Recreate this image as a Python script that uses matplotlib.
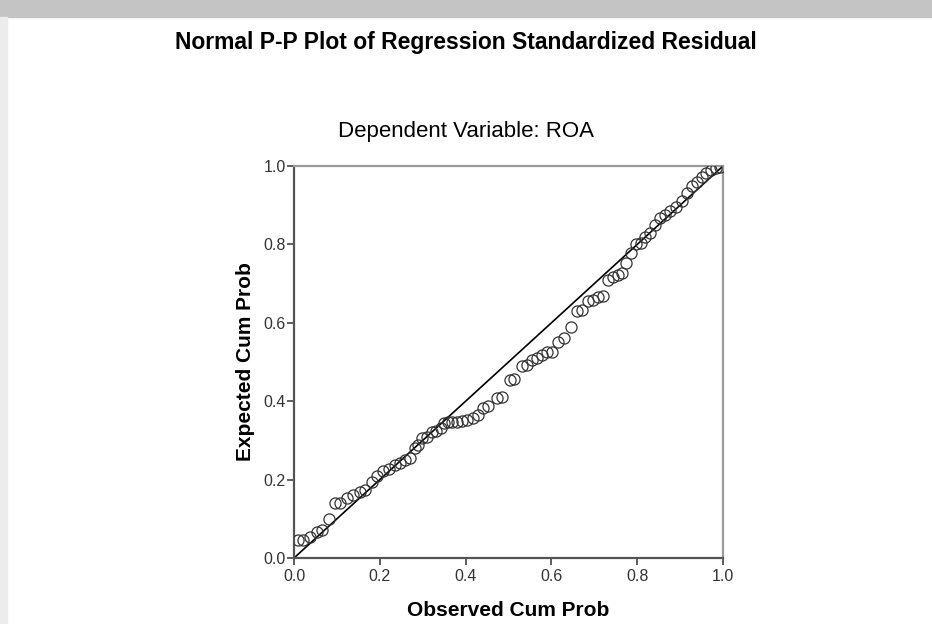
from matplotlib import pyplot as plt
from matplotlib.patches import Rectangle
import numpy as np

# observed vs expected cumulative probability
observed = [0.009, 0.021, 0.037, 0.054, 0.065, 0.082, 0.096, 0.107, 0.124, 0.138,
            0.154, 0.166, 0.182, 0.193, 0.207, 0.221, 0.235, 0.247, 0.259, 0.270,
            0.282, 0.289, 0.298, 0.310, 0.322, 0.331, 0.343, 0.350, 0.359, 0.368,
            0.380, 0.392, 0.403, 0.417, 0.429, 0.441, 0.452, 0.473, 0.485, 0.503,
            0.513, 0.531, 0.543, 0.555, 0.566, 0.578, 0.590, 0.601, 0.615, 0.629,
            0.646, 0.660, 0.671, 0.685, 0.697, 0.709, 0.720, 0.732, 0.744, 0.755,
            0.765, 0.774, 0.786, 0.797, 0.809, 0.818, 0.830, 0.841, 0.853, 0.865,
            0.876, 0.890, 0.904, 0.916, 0.928, 0.939, 0.951, 0.960, 0.972, 0.984,
            0.993]
expected = [0.046, 0.046, 0.054, 0.066, 0.071, 0.099, 0.140, 0.140, 0.153, 0.161,
            0.168, 0.173, 0.194, 0.209, 0.222, 0.227, 0.237, 0.242, 0.250, 0.255,
            0.281, 0.288, 0.306, 0.309, 0.321, 0.324, 0.332, 0.344, 0.347, 0.347,
            0.347, 0.349, 0.352, 0.357, 0.365, 0.383, 0.388, 0.408, 0.411, 0.454,
            0.457, 0.490, 0.492, 0.505, 0.510, 0.518, 0.526, 0.526, 0.551, 0.561,
            0.589, 0.630, 0.633, 0.656, 0.658, 0.666, 0.668, 0.709, 0.717, 0.722,
            0.727, 0.753, 0.778, 0.801, 0.804, 0.819, 0.829, 0.849, 0.867, 0.875,
            0.885, 0.895, 0.911, 0.931, 0.949, 0.959, 0.972, 0.982, 0.990, 0.995,
            0.997]
ticks = [0.0, 0.2, 0.4, 0.6, 0.8, 1.0]

plt.rcParams['font.family'] = ['Liberation Sans', 'DejaVu Sans']

fig = plt.figure(figsize=(9.32, 6.24), dpi=100)
# faint watermark band at the top of the screenshot
fig.patches.append(Rectangle((0, 0.972), 1, 0.028, transform=fig.transFigure,
                             color='#c4c4c4', zorder=0))
fig.patches.append(Rectangle((0, 0), 0.008, 0.972, transform=fig.transFigure,
                             color='#ececec', zorder=0))

ax = fig.add_axes([0.3155, 0.1058, 0.4603, 0.6282])
ax.plot([0, 1], [0, 1], color='black', linewidth=1.2, zorder=2)
ax.plot(observed, expected, linestyle='none', marker='o', markersize=8,
        markerfacecolor='none', markeredgecolor='#333333', markeredgewidth=0.9, zorder=3)

ax.set_xlim(0, 1)
ax.set_ylim(0, 1)
ax.set_xticks(ticks)
ax.set_yticks(ticks)
ax.set_xticklabels(['%.1f' % t for t in ticks])
ax.set_yticklabels(['%.1f' % t for t in ticks])
ax.tick_params(direction='out', length=5, width=1.2, color='#444444',
               labelsize=11.5, labelcolor='#333333')
ax.tick_params(axis='x', pad=3)
ax.tick_params(axis='y', pad=1)

for side in ['left', 'bottom']:
    ax.spines[side].set_color('#555555')
    ax.spines[side].set_linewidth(1.6)
for side in ['top', 'right']:
    ax.spines[side].set_color('#999999')
    ax.spines[side].set_linewidth(1.6)

ax.set_xlabel('Observed Cum Prob', fontsize=15, fontweight='bold', labelpad=12)
ax.set_ylabel('Expected Cum Prob', fontsize=15, fontweight='bold', labelpad=6)

fig.text(0.5, 0.932, 'Normal P-P Plot of Regression Standardized Residual',
         ha='center', va='center', fontsize=16.5, fontweight='bold')
fig.text(0.5, 0.789, 'Dependent Variable: ROA', ha='center', va='center', fontsize=16)

fig.savefig('out.png', dpi=100, facecolor='white')
